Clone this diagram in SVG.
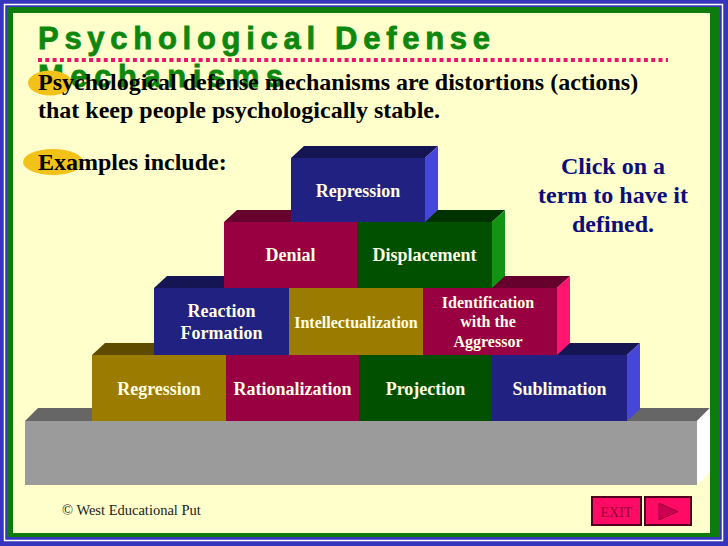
<svg xmlns="http://www.w3.org/2000/svg" width="728" height="546" viewBox="0 0 728 546">
<style>
.body{font-family:"Liberation Serif","Times New Roman",serif;font-weight:bold;font-size:24px;fill:#000}
.click{font-family:"Liberation Serif","Times New Roman",serif;font-weight:bold;font-size:24px;fill:#0c0c7a;text-anchor:middle}
.title{font-family:"Liberation Sans",Arial,sans-serif;font-weight:bold;font-size:31px;fill:#0e870e;stroke:#0e870e;stroke-width:0.8}
.lbl{font-family:"Liberation Serif","Times New Roman",serif;font-weight:bold;font-size:18px;fill:#ffffe6;text-anchor:middle}
.lbs{font-family:"Liberation Serif","Times New Roman",serif;font-weight:bold;font-size:16px;fill:#ffffe6;text-anchor:middle}
.navyF{fill:#212181}.navyT{fill:#151553}.navyS{fill:#4646da}
.marF{fill:#990042}.marT{fill:#66002c}.marS{fill:#ff1470}
.grnF{fill:#005000}.grnT{fill:#003200}.grnS{fill:#139313}
.oliF{fill:#9c7c00}.oliT{fill:#5e4b00}
.oval{fill:#f2c218}
.btn{fill:#ff0a64;stroke:#50001e;stroke-width:2}
</style>
<rect x="0" y="0" width="728" height="546" fill="#3535bd"/>
<rect x="4.5" y="4.5" width="718" height="536" fill="none" stroke="#ffffff" stroke-width="1.5"/>
<rect x="7" y="7" width="713" height="530" fill="#0c7c0c"/>
<rect x="13" y="13" width="697" height="520" fill="#ffffcc"/>

<g id="title">
<text class="title" x="38" y="49" textLength="452" lengthAdjust="spacing">Psychological Defense</text>
<line x1="38" y1="60" x2="668" y2="60" stroke="#e8176c" stroke-width="4" stroke-dasharray="4 3.3"/>
<text class="title" x="38" y="87" textLength="245" lengthAdjust="spacing">Mechanisms</text>
</g>

<g id="intro">
<ellipse class="oval" cx="50" cy="83" rx="22" ry="12.5"/>
<text class="body" x="38" y="90">Psychological defense mechanisms are distortions (actions)</text>
<text class="body" x="38" y="118">that keep people psychologically stable.</text>
<ellipse class="oval" cx="53" cy="162" rx="30" ry="13"/>
<text class="body" x="38" y="170">Examples include:</text>
</g>

<g id="hint">
<text class="click" x="613" y="174">Click on a</text>
<text class="click" x="613" y="203">term to have it</text>
<text class="click" x="613" y="232">defined.</text>
</g>

<g id="base">
<polygon points="25,421 38,408 710,408 697,421" fill="#666666"/>
<rect x="25" y="421" width="672" height="64" fill="#9b9b9b"/>
<polygon points="697,421 710,408 710,472 697,485" fill="#ffffff"/>
</g>

<g id="regression">
<polygon class="oliT" points="92,355 105,343 239,343 226,355"/>
<rect class="oliF" x="92" y="355" width="134" height="66"/>
<text class="lbl" x="159" y="395">Regression</text>
</g>
<g id="rationalization">
<polygon class="marT" points="226,355 239,343 372,343 359,355"/>
<rect class="marF" x="226" y="355" width="133" height="66"/>
<text class="lbl" x="292.5" y="395">Rationalization</text>
</g>
<g id="projection">
<polygon class="grnT" points="359,355 372,343 505,343 492,355"/>
<rect class="grnF" x="359" y="355" width="133" height="66"/>
<text class="lbl" x="425.5" y="395">Projection</text>
</g>
<g id="sublimation">
<polygon class="navyT" points="492,355 505,343 640,343 627,355"/>
<rect class="navyF" x="492" y="355" width="135" height="66"/>
<polygon class="navyS" points="627,355 640,343 640,409 627,421"/>
<text class="lbl" x="559.5" y="395">Sublimation</text>
</g>

<g id="reaction-formation">
<polygon class="navyT" points="154,288 167,276 302,276 289,288"/>
<rect class="navyF" x="154" y="288" width="135" height="67"/>
<text class="lbl" x="221.5" y="317">Reaction</text>
<text class="lbl" x="221.5" y="339">Formation</text>
</g>
<g id="intellectualization">
<polygon class="oliT" points="289,288 302,276 436,276 423,288"/>
<rect class="oliF" x="289" y="288" width="134" height="67"/>
<text class="lbs" x="356" y="328">Intellectualization</text>
</g>
<g id="identification">
<polygon class="marT" points="423,288 436,276 570,276 557,288"/>
<rect class="marF" x="423" y="288" width="134" height="67"/>
<polygon class="marS" points="557,288 570,276 570,343 557,355"/>
<text class="lbs" x="488" y="308">Identification</text>
<text class="lbs" x="488" y="327">with the</text>
<text class="lbs" x="488" y="347">Aggressor</text>
</g>

<g id="denial">
<polygon class="marT" points="224,222 237,210 370,210 357,222"/>
<rect class="marF" x="224" y="222" width="133" height="66"/>
<text class="lbl" x="290.5" y="261">Denial</text>
</g>
<g id="displacement">
<polygon class="grnT" points="357,222 370,210 505,210 492,222"/>
<rect class="grnF" x="357" y="222" width="135" height="66"/>
<polygon class="grnS" points="492,222 505,210 505,276 492,288"/>
<text class="lbl" x="424.5" y="261">Displacement</text>
</g>

<g id="repression">
<polygon class="navyT" points="291,158 304,146 438,146 425,158"/>
<rect class="navyF" x="291" y="158" width="134" height="64"/>
<polygon class="navyS" points="425,158 438,146 438,210 425,222"/>
<text class="lbl" x="358" y="197">Repression</text>
</g>

<g id="connectors"></g>

<g id="footer">
<text x="62" y="515" font-family="Liberation Serif, Times New Roman, serif" font-size="14.5" fill="#222222">© West Educational Put</text>
</g>
<g id="exit-button">
<rect class="btn" x="592" y="497" width="49" height="28"/>
<text x="616.5" y="517" font-family="Liberation Serif, Times New Roman, serif" font-size="14" fill="#9a0038" text-anchor="middle">EXIT</text>
</g>
<g id="next-button">
<rect class="btn" x="645" y="497" width="46" height="28"/>
<polygon points="659,503 659,520 678,511.5" fill="#cc0050" stroke="#99003a" stroke-width="1"/>
</g>
</svg>
